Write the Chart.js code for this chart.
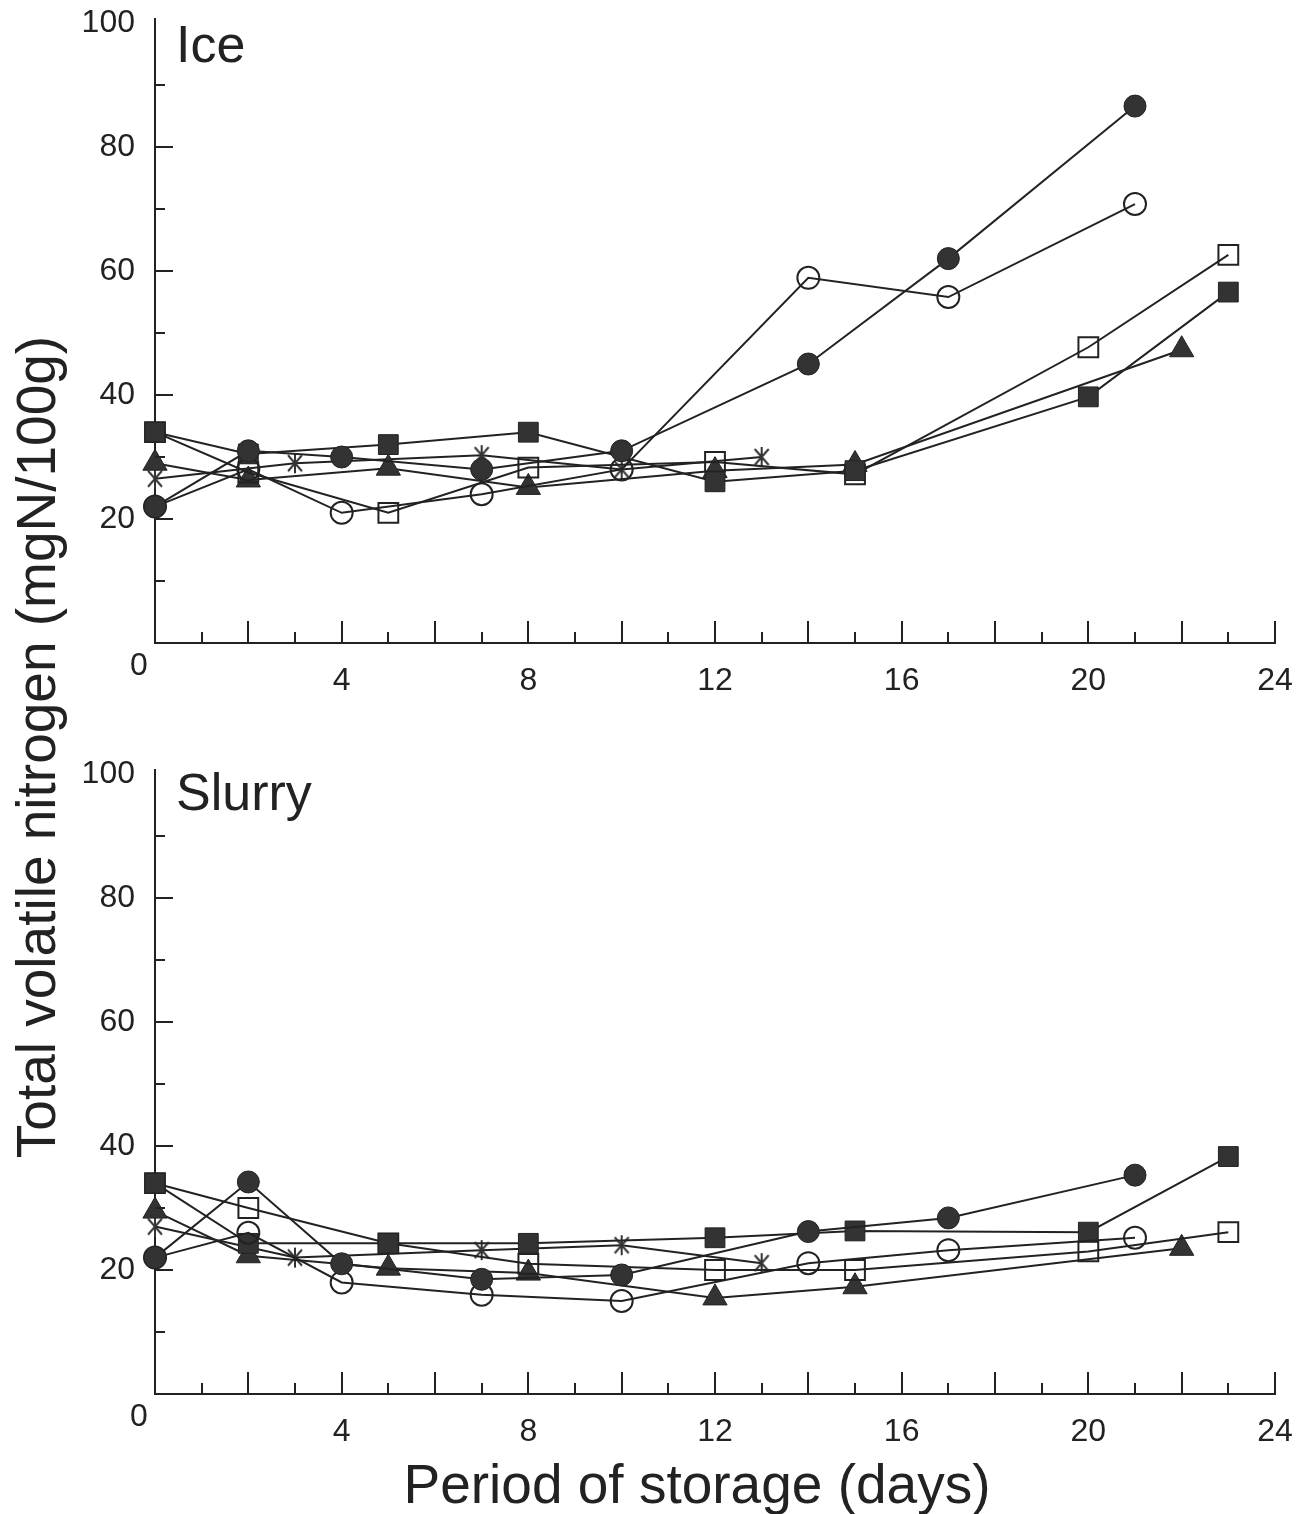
<!DOCTYPE html>
<html>
<head>
<meta charset="utf-8">
<script src="https://cdn.jsdelivr.net/npm/chart.js@4"></script>
<style>
  body { margin: 0; background: #fff; width: 1312px; height: 1514px; position: relative; overflow: hidden;
         font-family: "Liberation Sans", Arial, sans-serif; color: #222; }
  canvas { position: absolute; left: 0; }
  #iceChart { top: 0; }
  #slurryChart { top: 750px; }
  .ytitle { position: absolute; left: -464px; top: 717px; width: 1000px; height: 60px; line-height: 60px;
            font-size: 55px; text-align: center; transform: rotate(-90deg); white-space: nowrap; }
  .xtitle { position: absolute; left: 197px; top: 1454px; width: 1000px; height: 60px; line-height: 60px;
            font-size: 55px; text-align: center; white-space: nowrap; }
</style>
</head>
<body>
<canvas id="iceChart" width="1312" height="700"></canvas>
<canvas id="slurryChart" width="1312" height="700"></canvas>
<div class="ytitle">Total volatile nitrogen (mgN/100g)</div>
<div class="xtitle">Period of storage (days)</div>
<script>
// sampling days per marker type
const circleDays   = [0, 2, 4, 7, 10, 14, 17, 21];
const squareDays   = [0, 2, 5, 8, 12, 15, 20, 23];
const triangleDays = [0, 2, 5, 8, 12, 15, 22];
const starDays     = [0, 3, 7, 10, 13];

// Ice
const iceFilledCircle = [22, 31, 30, 28, 31, 45, 62, 86.6];
const iceOpenCircle   = [22, 28, 21, 24, 28, 58.9, 55.8, 70.8];
const iceFilledSquare = [34, 30.5, 32, 34, 26, 27.8, 39.7, 56.6];
const iceOpenSquare   = [34, 27.5, 21, 28.3, 29.2, 27.2, 47.7, 62.6];
const iceTriangle     = [29, 26.3, 28.2, 25.1, 27.8, 28.8, 47.3];
const iceStar         = [26.5, 29, 30.3, 28, 30];

// Slurry
const slurryFilledCircle = [22, 34.2, 21, 18.5, 19.2, 26.2, 28.4, 35.3];
const slurryOpenCircle   = [22, 26, 18, 16, 15, 21.1, 23.2, 25.2];
const slurryFilledSquare = [34, 24.3, 24.3, 24.3, 25.2, 26.3, 26.1, 38.3];
const slurryOpenSquare   = [34, 30, 24.3, 21, 20, 20, 23, 26.1];
const slurryTriangle     = [29.5, 22.3, 20.3, 19.5, 15.5, 17.3, 23.5];
const slurryStar         = [27, 22, 23.2, 24, 21.1];

const xLabels = [4, 8, 12, 16, 20, 24];
const yLabels = [20, 40, 60, 80, 100];

const FONT = '"Liberation Sans", Arial, sans-serif';
const INK = '#222';

function asterisk() {
  const c = document.createElement('canvas');
  c.width = 20; c.height = 22;
  const g = c.getContext('2d');
  g.strokeStyle = '#333'; g.lineWidth = 2;
  g.beginPath();
  g.moveTo(10, 1); g.lineTo(10, 21);
  g.moveTo(3, 3); g.lineTo(17, 19);
  g.moveTo(17, 3); g.lineTo(3, 19);
  g.stroke();
  return c;
}
const starImg = asterisk();

function ds(days, vals, style, filled, radius) {
  return {
    data: days.map((d, i) => ({ x: d, y: vals[i] })),
    borderColor: INK, borderWidth: 2, tension: 0, fill: false, clip: false,
    pointStyle: style, pointRadius: radius, pointHoverRadius: radius,
    pointBackgroundColor: filled ? '#333' : 'rgba(0,0,0,0)',
    pointBorderColor: INK, pointBorderWidth: filled ? 1 : 2
  };
}

const frame = {
  id: 'frame',
  afterDraw(chart, args, opts) {
    const { ctx, chartArea: a } = chart;
    const x = chart.scales.x, y = chart.scales.y;
    ctx.save();
    ctx.strokeStyle = INK; ctx.lineWidth = 2;
    ctx.beginPath();
    for (let d = 1; d <= 24; d++) {
      const px = Math.round(x.getPixelForValue(d));
      const len = d % 2 === 0 ? 22 : 11;
      ctx.moveTo(px, a.bottom); ctx.lineTo(px, a.bottom - len);
    }
    for (let v = 10; v < 100; v += 10) {
      const py = Math.round(y.getPixelForValue(v));
      const len = v % 20 === 0 ? 18 : 10;
      ctx.moveTo(a.left, py); ctx.lineTo(a.left + len, py);
    }
    ctx.moveTo(a.left, a.top); ctx.lineTo(a.left, a.top - 5);
    ctx.stroke();
    ctx.fillStyle = INK;
    ctx.font = '32px ' + FONT;
    ctx.textAlign = 'center'; ctx.textBaseline = 'middle';
    ctx.fillText('0', a.left - 16, a.bottom + 23);
    ctx.textAlign = 'left'; ctx.textBaseline = 'alphabetic';
    ctx.font = '52px ' + FONT;
    ctx.fillText(opts.title, a.left + 21, opts.baseline);
    ctx.restore();
  }
};

function makePanel(id, title, baseline, padTop, axisH, s) {
  return new Chart(document.getElementById(id), {
    type: 'line',
    data: {
      datasets: [
        ds(circleDays, s[0], 'circle', true, 11),
        ds(circleDays, s[1], 'circle', false, 11),
        ds(squareDays, s[2], 'rect', true, 14),
        ds(squareDays, s[3], 'rect', false, 14),
        ds(triangleDays, s[4], 'triangle', true, 14),
        ds(starDays, s[5], starImg, true, 10)
      ]
    },
    options: {
      responsive: false, animation: false, devicePixelRatio: 1, events: [],
      layout: { padding: { left: 0, right: 37, top: padTop, bottom: 0 } },
      plugins: { legend: { display: false }, tooltip: { enabled: false }, frame: { title, baseline } },
      scales: {
        x: {
          type: 'linear', min: 0, max: 24,
          afterFit: sc => { sc.height = axisH; sc.paddingLeft = 0; sc.paddingRight = 0; },
          grid: { drawOnChartArea: false, drawTicks: false },
          border: { color: INK, width: 2 },
          afterBuildTicks: sc => { sc.ticks = [0].concat(xLabels).map(v => ({ value: v })); },
          ticks: { color: INK, font: { family: FONT, size: 32 }, padding: 19, maxRotation: 0, autoSkip: false,
                   callback: v => xLabels.includes(v) ? String(v) : '' }
        },
        y: {
          min: 0, max: 100,
          afterFit: sc => { sc.width = 155; sc.paddingTop = 0; sc.paddingBottom = 0; },
          grid: { drawOnChartArea: false, drawTicks: false },
          border: { color: INK, width: 2 },
          afterBuildTicks: sc => { sc.ticks = [0].concat(yLabels).map(v => ({ value: v })); },
          ticks: { color: INK, font: { family: FONT, size: 32 }, padding: 20,
                   callback: v => yLabels.includes(v) ? String(v) : '' }
        }
      }
    },
    plugins: [frame]
  });
}

makePanel('iceChart', 'Ice', 62, 23, 57,
  [iceFilledCircle, iceOpenCircle, iceFilledSquare, iceOpenSquare, iceTriangle, iceStar]);
makePanel('slurryChart', 'Slurry', 60, 24, 56,
  [slurryFilledCircle, slurryOpenCircle, slurryFilledSquare, slurryOpenSquare, slurryTriangle, slurryStar]);
</script>
</body>
</html>
